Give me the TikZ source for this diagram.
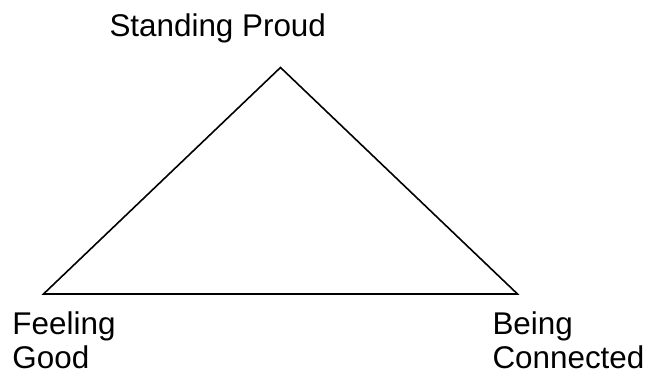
\documentclass[tikz,border=0pt]{standalone}
\usepackage{fontspec}
\setmainfont{Liberation Sans}
\usetikzlibrary{positioning}
\tikzset{
    corner_lbl/.style={
        inner sep=0pt, outer sep=0pt, align=left, anchor=north west,
        font=\fontsize{31.4pt}{34pt}\selectfont, text=black
    },
    tri_line/.style={
        draw=black, line width=1.6pt, line join=miter
    }
}
\begin{document}
\begin{tikzpicture}[x=1pt, y=-1pt]
    \useasboundingbox (0,0) rectangle (651,371);

    % --- Triangle corners ---
    \coordinate (apex) at (280.5, 67.5);
    \coordinate (left_pt) at (43.5, 294);
    \coordinate (right_pt) at (517.5, 294);

    % --- Triangle ---
    \draw[tri_line] (apex) -- (left_pt) -- (right_pt) -- cycle;

    % --- Labels ---
    \node[corner_lbl] (proud) at (109.5, 14) {Standing Proud};
    \node[corner_lbl] (good) at (12.5, 311.5) {Feeling\\Good};
    \node[corner_lbl] (connected) at (492.5, 311.5) {Being\\Connected};

\end{tikzpicture}
\end{document}
